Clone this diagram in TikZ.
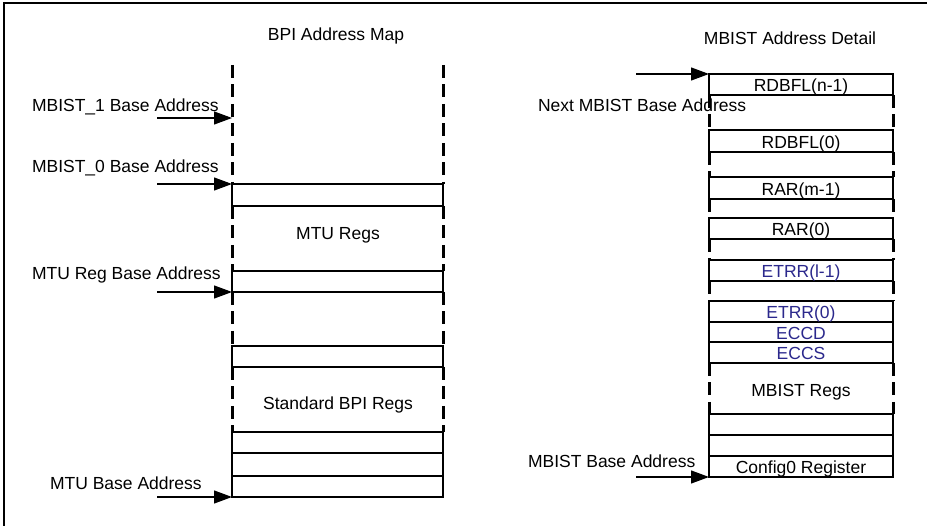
\documentclass[tikz,border=0pt]{standalone}
\usepackage{fontspec}
\setmainfont{Liberation Sans}
\usetikzlibrary{arrows.meta,calc}
\definecolor{regblue}{RGB}{43,40,140}
\begin{document}
\begin{tikzpicture}[x=1pt,y=-1pt,
  every node/.style={font=\fontsize{17.5}{21}\selectfont, inner sep=0pt, outer sep=0pt},
  lrow/.style={draw, line width=1.2pt, minimum width=211pt, minimum height=#1, anchor=north west},
  rrow/.style={draw, line width=1.2pt, minimum width=184pt, minimum height=#1, anchor=north west},
  dsh/.style={line width=3pt, dash pattern=on 13pt off 6.5pt},
  lbl/.style={anchor=base west},
  ctr/.style={anchor=base},
  blu/.style={anchor=base, text=regblue},
  addrarrow/.style={line width=1.2pt, -{Triangle[length=18pt,width=13pt]}}
]
\useasboundingbox (0,0) rectangle (927,526);
% frame
\draw[line width=1.5pt] (4,526) -- (4,3) -- (927,3);

% ===== Left: BPI Address Map =====
\node[ctr] (ltitle) at (336,41) {BPI Address Map};
\coordinate (ltopL) at (232,65);
\coordinate (ltopR) at (443,65);
\node[lrow=22pt] (A)  at (232,184) {};
\node[lrow=21pt] (B)  at (232,271) {};
\node[lrow=21pt] (C)  at (232,346) {};
\node[lrow=21pt] (D1) at (232,432) {};
\node[lrow=23pt] (D2) at (232,453) {};
\node[lrow=21pt] (D3) at (232,476) {};

\draw[dsh] (ltopL) -- (A.north west);
\draw[dsh] (ltopR) -- (A.north east);
\draw[dsh] (A.south west) -- (B.north west);
\draw[dsh] (A.south east) -- (B.north east);
\draw[dsh] (B.south west) -- (C.north west);
\draw[dsh] (B.south east) -- (C.north east);
\draw[dsh] (C.south west) -- (D1.north west);
\draw[dsh] (C.south east) -- (D1.north east);

\node[ctr] (mturegs) at (338,240) {MTU Regs};
\node[ctr] (stdregs) at (338,410) {Standard BPI Regs};

\node[lbl] (m1t) at (32,112) {MBIST\_1 Base Address};
\node[lbl] (m0t) at (32,173) {MBIST\_0 Base Address};
\node[lbl] (mrt) at (32,280) {MTU Reg Base Address};
\node[lbl] (mbt) at (50,490) {MTU Base Address};

\coordinate (m1s) at (157,118);
\coordinate (m1e) at (232,118);
\coordinate (m0s) at (157,184);
\coordinate (mrs) at (157,292);
\coordinate (mbs) at (157,497);
\draw[addrarrow] (m1s) -- (m1e);
\draw[addrarrow] (m0s) -- (A.north west);
\draw[addrarrow] (mrs) -- (B.south west);
\draw[addrarrow] (mbs) -- (D3.south west);

% ===== Right: MBIST Address Detail =====
\node[ctr] (rtitle) at (790,45) {MBIST Address Detail};
\node[rrow=21pt] (R1)  at (709,74) {};
\node[rrow=22pt] (R2)  at (709,130) {};
\node[rrow=22pt] (R3)  at (709,177) {};
\node[rrow=21pt] (R4)  at (709,218) {};
\node[rrow=21pt] (R5)  at (709,260) {};
\node[rrow=21pt] (R6)  at (709,301) {};
\node[rrow=20pt] (R7)  at (709,322) {};
\node[rrow=21pt] (R8)  at (709,342) {};
\node[rrow=21pt] (R9)  at (709,414) {};
\node[rrow=21pt] (R10) at (709,435) {};
\node[rrow=21pt] (R11) at (709,456) {};

\foreach \a/\b in {R1/R2,R2/R3,R3/R4,R4/R5,R5/R6,R8/R9}{
  \draw[dsh] (\a.south west) -- (\b.north west);
  \draw[dsh] (\a.south east) -- (\b.north east);
}

\node[ctr] (R1t) at ($(R1.south)+(0,-3)$) {RDBFL(n-1)};
\node[ctr] (R2t) at ($(R2.south)+(0,-3)$) {RDBFL(0)};
\node[ctr] (R3t) at ($(R3.south)+(0,-3)$) {RAR(m-1)};
\node[ctr] (R4t) at ($(R4.south)+(0,-3)$) {RAR(0)};
\node[blu] (R5t) at ($(R5.south)+(0,-3)$) {ETRR(l-1)};
\node[blu] (R6t) at ($(R6.south)+(0,-3)$) {ETRR(0)};
\node[blu] (R7t) at ($(R7.south)+(0,-2)$) {ECCD};
\node[blu] (R8t) at ($(R8.south)+(0,-3)$) {ECCS};
\node[ctr] (mbregs) at (801,397) {MBIST Regs};
\node[ctr] (R11t) at ($(R11.south)+(0,-3)$) {Config0 Register};

\node[lbl] (nxt) at (538,112) {Next MBIST Base Address};
\node[lbl] (mbb) at (528,468) {MBIST Base Address};

\coordinate (nxs) at (636,74);
\coordinate (mbs2) at (636,477);
\draw[addrarrow] (nxs) -- (R1.north west);
\draw[addrarrow] (mbs2) -- (R11.south west);
\end{tikzpicture}
\end{document}
